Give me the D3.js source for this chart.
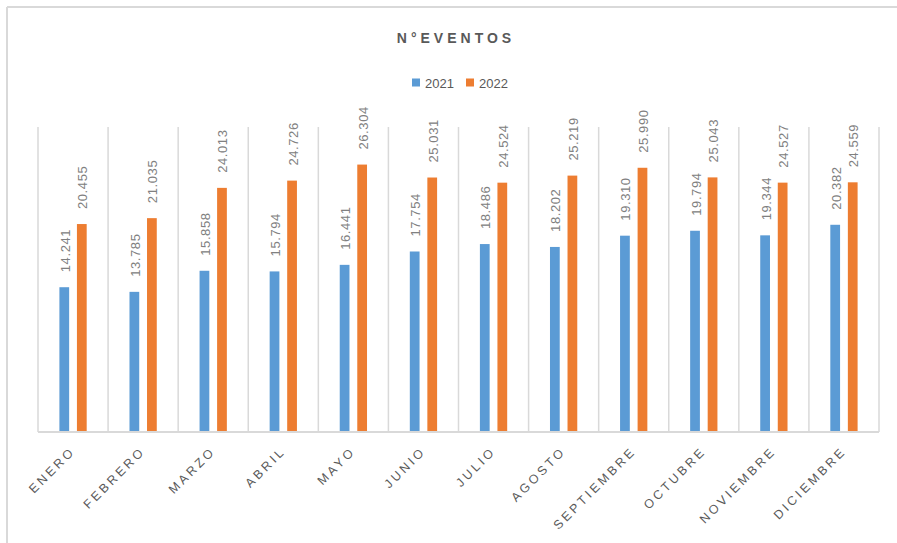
<!DOCTYPE html>
<html><head><meta charset="utf-8">
<script src="https://cdn.jsdelivr.net/npm/d3@7"></script>
<style>body{margin:0;background:#fff}svg{display:block}</style>
</head><body>
<svg id="c" width="897" height="543"></svg>
<script>
const categories = ["ENERO","FEBRERO","MARZO","ABRIL","MAYO","JUNIO","JULIO","AGOSTO","SEPTIEMBRE","OCTUBRE","NOVIEMBRE","DICIEMBRE"];
const series2021 = [14241,13785,15858,15794,16441,17754,18486,18202,19310,19794,19344,20382];
const series2022 = [20455,21035,24013,24726,26304,25031,24524,25219,25990,25043,24527,24559];
const seriesNames = ["2021","2022"];
const colors = ["#5b9bd5","#ed7d31"];
const title = "N°EVENTOS";

(function(){
const svg = d3.select("#c");
svg.append("line").attr("x1",7).attr("x2",897).attr("y1",7).attr("y2",7).attr("stroke","#d9d9d9").attr("stroke-width",2);
svg.append("line").attr("x1",7).attr("x2",7).attr("y1",7).attr("y2",543).attr("stroke","#d9d9d9").attr("stroke-width",2);

const pL=38,pR=879,pT=127,pB=432;
const x = d3.scaleBand().domain(categories).range([pL,pR]).padding(0);
const y = d3.scaleLinear().domain([0,30000]).range([pB,pT]);
const x1 = d3.scaleBand().domain(seriesNames).range([0,x.bandwidth()]).paddingInner(0.444).paddingOuter(1.22);

const bounds = categories.map(c=>x(c)).concat([pR]);
svg.append("g").selectAll("line").data(bounds).join("line")
  .attr("x1",d=>d).attr("x2",d=>d).attr("y1",pT).attr("y2",pB)
  .attr("stroke","#d9d9d9").attr("stroke-width",1.5);

const fmt = d3.formatLocale({decimal:",",thousands:".",grouping:[3],currency:["","€"]}).format(",d");
const data = [series2021, series2022];
data.forEach((vals,si)=>{
  const g = svg.append("g");
  g.selectAll("rect").data(vals).join("rect")
    .attr("x",(d,i)=>x(categories[i])+x1(seriesNames[si]))
    .attr("width",x1.bandwidth())
    .attr("y",d=>y(d)).attr("height",d=>pB-y(d))
    .attr("fill",colors[si]);
  g.selectAll("text").data(vals).join("text")
    .attr("transform",(d,i)=>`translate(${x(categories[i])+x1(seriesNames[si])+x1.bandwidth()/2+5.5},${y(d)-15}) rotate(-90)`)
    .attr("font-family","Liberation Sans, Arial, sans-serif").attr("font-size",13).attr("letter-spacing",0.6)
    .attr("fill","#808080").text(d=>fmt(d));
});

svg.append("line").attr("x1",pL).attr("x2",pR).attr("y1",pB).attr("y2",pB).attr("stroke","#d9d9d9").attr("stroke-width",2);

svg.append("g").selectAll("text").data(categories).join("text")
  .attr("transform",d=>`translate(${x(d)+x.bandwidth()/2+3},${pB+20}) rotate(-45)`)
  .attr("text-anchor","end")
  .attr("font-family","Liberation Sans, Arial, sans-serif").attr("font-size",12.5).attr("letter-spacing",3)
  .attr("fill","#595959").text(d=>d);

svg.append("text").attr("x",456).attr("y",43).attr("text-anchor","middle")
  .attr("font-family","Liberation Sans, Arial, sans-serif").attr("font-size",14).attr("font-weight","bold")
  .attr("letter-spacing",4).attr("fill","#595959").text(title);

const lg = svg.append("g");
const legX = [412,466];
seriesNames.forEach((n,i)=>{
  lg.append("rect").attr("x",legX[i]).attr("y",78.5).attr("width",8).attr("height",8).attr("fill",colors[i]);
  lg.append("text").attr("x",legX[i]+13).attr("y",88).attr("font-family","Liberation Sans, Arial, sans-serif")
    .attr("font-size",13).attr("fill","#595959").text(n);
});
})();
</script>
</body></html>
